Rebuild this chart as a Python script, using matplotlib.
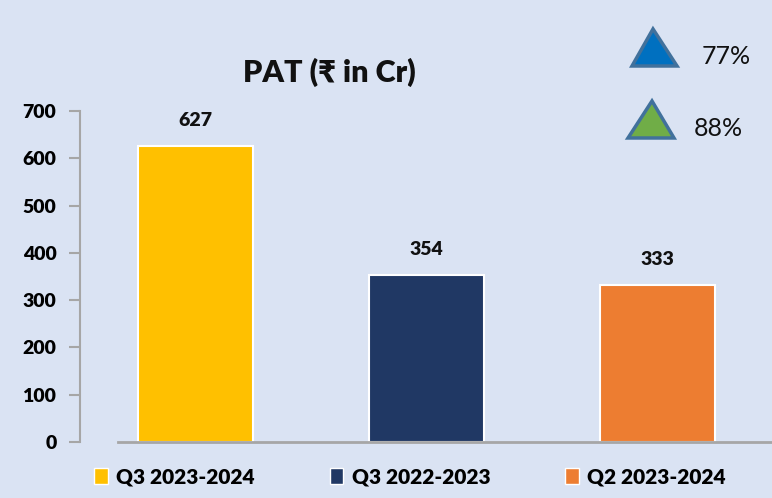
import matplotlib
matplotlib.use("Agg")
import matplotlib.pyplot as plt
from matplotlib.patches import Polygon, Patch

categories = ["Q3 2023-2024", "Q3 2022-2023", "Q2 2023-2024"]
values = [627, 354, 333]
colors = ["#FFC000", "#203864", "#ED7D31"]
yticks = [0, 100, 200, 300, 400, 500, 600, 700]
title = "PAT (₹ in Cr)"
growth_labels = ["77%", "88%"]

BG = "#DAE3F3"
FONT = ["Lato", "DejaVu Sans"]
plt.rcParams["font.family"] = FONT

W, H = 772, 498
fig = plt.figure(figsize=(W / 100, H / 100), dpi=100, facecolor=BG)
ax = fig.add_axes([80 / W, (H - 442) / H, 693 / W, 331 / H])
ax.set_facecolor(BG)

x = list(range(len(categories)))
bars = ax.bar(x, values, width=0.5, color=colors, edgecolor="white", linewidth=1.5, zorder=2)
ax.set_xlim(-0.5, 2.5)
ax.set_ylim(0, 700)
ax.set_yticks(yticks)
ax.set_yticklabels([str(t) for t in yticks], fontsize=14, fontweight="heavy")
ax.set_xticks([])
for s in ["top", "right", "bottom"]:
    ax.spines[s].set_visible(False)
ax.spines["left"].set_color("#A6A6A6")
ax.spines["left"].set_linewidth(1.5)
ax.tick_params(axis="y", direction="out", length=8, width=1.5, color="#A6A6A6", pad=9)
ax.axhline(0, xmin=(118 - 80) / 693, xmax=1, color="#A6A6A6", linewidth=2, zorder=3, clip_on=False)

for xi, v in zip(x, values):
    ax.annotate(str(v), (xi, v), xytext=(0, 18), textcoords="offset points",
                ha="center", va="center", fontsize=14, fontweight="heavy", color="#111111")

fig.text(329 / W, 1 - 72 / H, title, ha="center", va="center", fontsize=22, fontweight="heavy", color="#111111")

# growth triangles
def tri(pts, face):
    fig.patches.append(Polygon([(px / W, 1 - py / H) for px, py in pts], closed=True,
                               transform=fig.transFigure, facecolor=face, edgecolor="#41719C",
                               linewidth=2.5, figure=fig))

tri([(653, 29), (632, 66), (677, 66)], "#0070C0")
tri([(652, 101), (628, 138), (674, 138)], "#70AD47")
fig.text(726 / W, 1 - 56 / H, growth_labels[0], ha="center", va="center", fontsize=18, color="#111111")
fig.text(718 / W, 1 - 129 / H, growth_labels[1], ha="center", va="center", fontsize=18, color="#111111")

handles = [Patch(facecolor=c, edgecolor="white", linewidth=1) for c in colors]
leg = fig.legend(handles, categories, loc="center", bbox_to_anchor=(410 / W, 1 - 477 / H),
                 ncol=3, frameon=False, prop={"size": 15, "weight": "heavy"},
                 handlelength=0.65, handleheight=0.8, handletextpad=0.4, columnspacing=3.6)

fig.savefig("out.png", dpi=100, facecolor=BG)
